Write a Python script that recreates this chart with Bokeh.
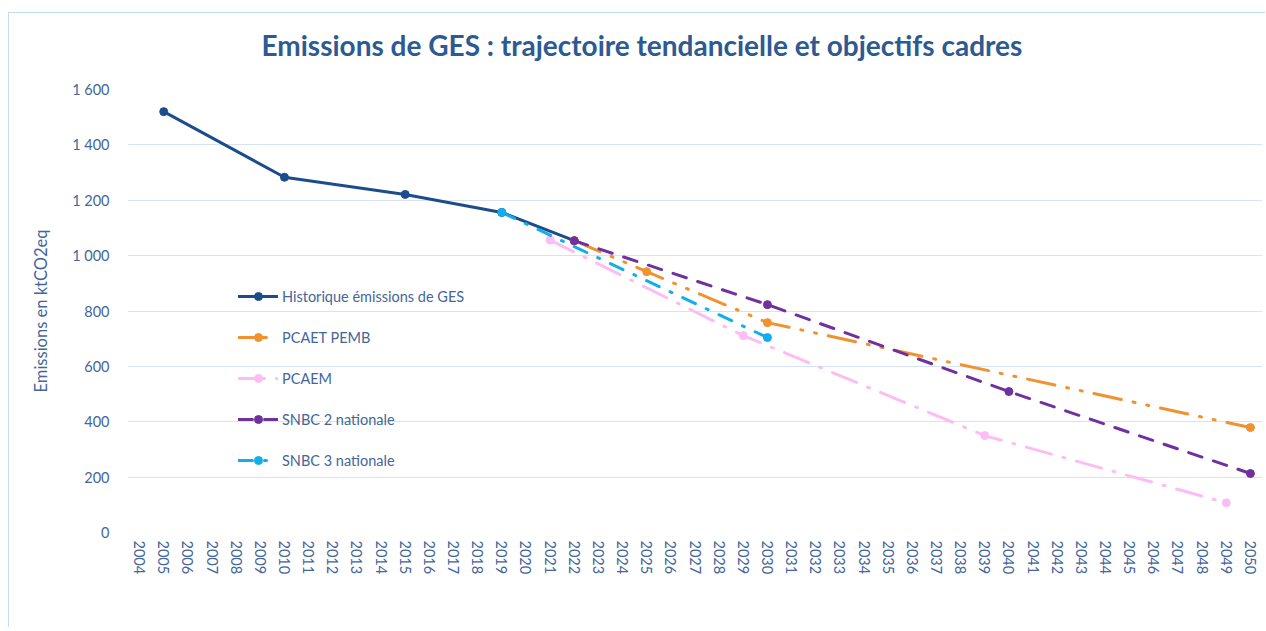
from bokeh.plotting import figure
from bokeh.models import FactorRange, Range1d, FixedTicker, Legend, LegendItem, Title
from bokeh.embed import file_html
from bokeh.resources import INLINE

# ---- data ----
years = [str(y) for y in range(2004, 2051)]

hist_years = ["2005", "2010", "2015", "2019", "2022"]
hist_vals = [1520, 1283, 1221, 1156, 1054]

pcaet_years = ["2022", "2025", "2030", "2050"]
pcaet_vals = [1054, 942, 758, 379]

pcaem_years = ["2021", "2029", "2039", "2049"]
pcaem_vals = [1056, 711, 350, 107]

snbc2_years = ["2022", "2030", "2040", "2050"]
snbc2_vals = [1054, 823, 509, 213]

snbc3_years = ["2019", "2030"]
snbc3_vals = [1156, 704]

y_ticks = [0, 200, 400, 600, 800, 1000, 1200, 1400, 1600]
y_tick_labels = ["0", "200", "400", "600", "800", "1 000", "1 200", "1 400", "1 600"]

series_names = ["Historique émissions de GES", "PCAET PEMB", "PCAEM",
                "SNBC 2 nationale", "SNBC 3 nationale"]

title_text = "Emissions de GES : trajectoire tendancielle et objectifs cadres"

# ---- styles ----
FONT = "Lato"
TXT = "#44669A"
GRID = "#D5E3F5"
FRAME = "#C5DBF3"

p = figure(frame_width=1135, frame_height=443, x_range=FactorRange(*years, range_padding=0),
           y_range=Range1d(0, 1600), output_backend="svg", toolbar_location=None,
           min_border_left=127, min_border_right=3, min_border_top=93,
           min_border_bottom=95)
p.border_fill_color = None
p.background_fill_color = "white"
p.styles = {
    "margin-top": "-4px",
    "background": (f"linear-gradient({FRAME},{FRAME}) 8px 16px / calc(100% - 8px) 1px no-repeat, "
                   f"linear-gradient({FRAME},{FRAME}) 8px 16px / 1px calc(100% - 16px) no-repeat, white"),
}

p.outline_line_color = None
p.xgrid.grid_line_color = None
p.ygrid.grid_line_color = GRID
p.ygrid.grid_line_width = 1
p.yaxis.ticker = FixedTicker(ticks=y_ticks)
p.yaxis.major_label_overrides = {t: l for t, l in zip(y_ticks, y_tick_labels)}

for ax in (p.xaxis, p.yaxis):
    ax.axis_line_color = None
    ax.major_tick_line_color = None
    ax.minor_tick_line_color = None
    ax.major_label_text_color = TXT
    ax.major_label_text_font = FONT
    ax.major_label_text_font_size = "14.5px"
    ax.axis_label_text_color = TXT
    ax.axis_label_text_font = FONT
    ax.axis_label_text_font_style = "normal"
    ax.axis_label_text_font_size = "16.5px"

p.xaxis.major_label_orientation = "vertical"
p.xaxis.major_label_standoff = 2
p.yaxis.major_label_standoff = 12
p.yaxis.axis_label = "Emissions en ktCO2eq"
p.yaxis.axis_label_standoff = 18

p.add_layout(Title(text=title_text,
                   text_font=FONT, text_font_size="28px", text_font_style="bold",
                   text_color="#2E5A92", align="left", offset=134, standoff=56), "above")

specs = [
    (hist_years, hist_vals, "#1C4C8C", None),
    (pcaet_years, pcaet_vals, "#F0922F", "28 12 2 12 2 12"),
    (pcaem_years, pcaem_vals, "#FBBDF3", "26 12 2 12"),
    (snbc2_years, snbc2_vals, "#7030A0", "14 12"),
    (snbc3_years, snbc3_vals, "#10AEEA", "14 12 2 12"),
]

items = []
for name, (xs, ys, col, dash) in zip(series_names, specs):
    kw = {}
    if dash:
        kw["line_dash"] = dash
    r1 = p.line(xs, ys, line_color=col, line_width=3, line_cap="round", **kw)
    r2 = p.scatter(xs, ys, size=8, fill_color=col, line_color=col)
    items.append(LegendItem(label=name, renderers=[r1, r2]))

legend = Legend(items=items, location=(111, 62), glyph_width=40, glyph_height=20,
                label_height=20, spacing=21, padding=0, margin=0, label_standoff=4,
                label_text_font=FONT, label_text_font_size="14.5px", label_text_color=TXT,
                background_fill_alpha=0, border_line_color=None)
p.add_layout(legend)

open("out.html", "w").write(file_html(p, INLINE))
